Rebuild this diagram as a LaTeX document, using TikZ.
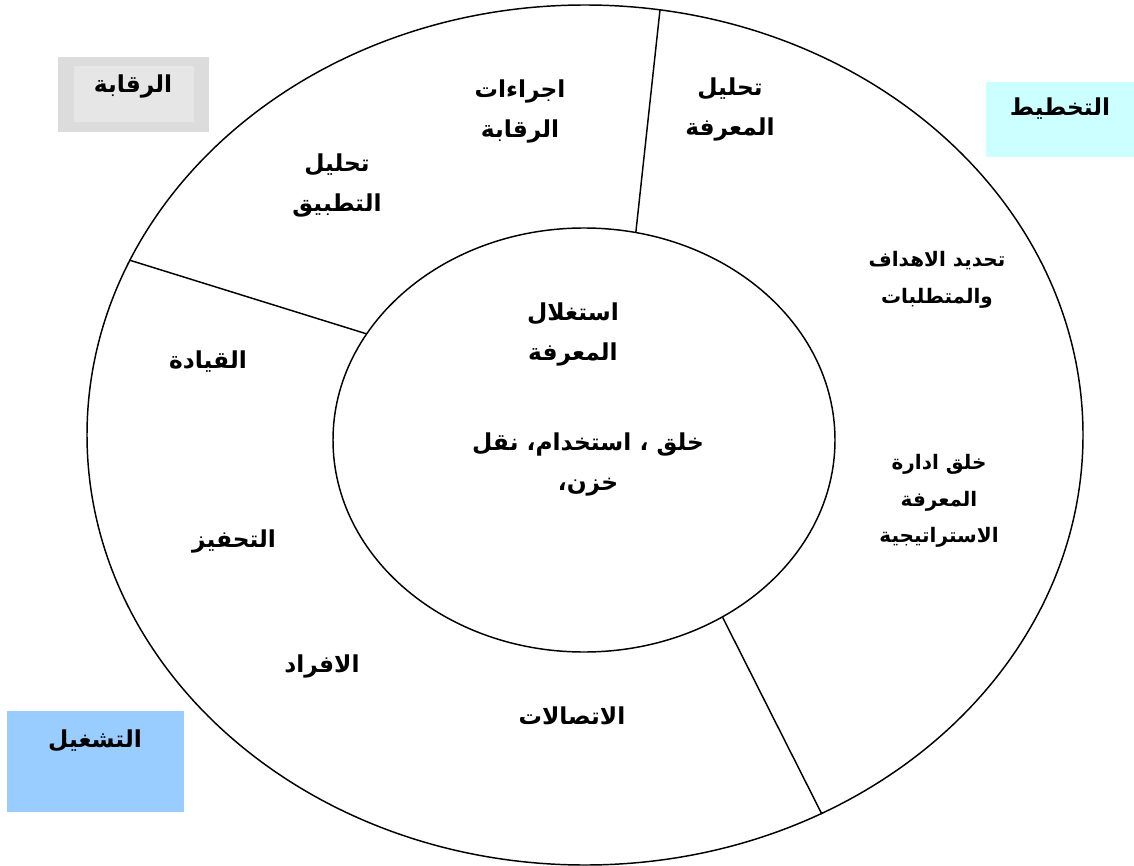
\documentclass[tikz,border=0pt]{standalone}
\usepackage{fontspec}
\newfontfamily\arabicfont[Script=Arabic]{DejaVu Sans}
\TeXXeTstate=1
\usetikzlibrary{shapes.geometric,positioning}
\definecolor{ctrlgray}{HTML}{DCDCDC}
\definecolor{ctrlgraylight}{HTML}{E6E6E6}
\definecolor{plancyan}{HTML}{CCFFFF}
\definecolor{opblue}{HTML}{99CCFF}
\newcommand{\artext}[1]{\beginR #1\endR}

\begin{document}
\begin{tikzpicture}[x=0.75pt, y=-0.75pt, line width=1.1pt]
\tikzstyle{ring}=[ellipse, draw=black, inner sep=0pt]
\tikzstyle{lbl}=[align=center, inner sep=0pt, font=\arabicfont\bfseries\fontsize{17.5}{30}\selectfont]
\tikzstyle{lblsmall}=[lbl, font=\arabicfont\bfseries\fontsize{15}{27.5}\selectfont]
\useasboundingbox (0,0) rectangle (1134,866);
% coloured boxes
\fill[ctrlgray] (58,57) rectangle (209,132);
\fill[ctrlgraylight] (74,66) rectangle (194,122);
\fill[plancyan] (986,82) rectangle (1134,157);
\fill[opblue] (7,711) rectangle (184,812);
\node[lbl] (control) at (133,86)  {\artext{الرقابة}};
\node[lbl] (plan)    at (1060,109) {\artext{التخطيط}};
\node[lbl] (oper)    at (95,741)  {\artext{التشغيل}};
% rings
\node[ring, minimum width=747pt, minimum height=645pt] (outer) at (585,435) {};
\node[ring, minimum width=376.5pt, minimum height=318pt] (inner) at (584,440) {};
\draw (inner.76)   -- (outer.80);
\draw (inner.154)  -- (outer.159);
\draw (inner.-52)  -- (outer.-58.7);
% outer ring texts
\node[lbl] (ctrlproc)  at (520,111) {\artext{اجراءات}\\\artext{الرقابة}};
\node[lbl] (knowanal)  at (730,109) {\artext{تحليل}\\\artext{المعرفة}};
\node[lbl] (appanal)   at (337,186) {\artext{تحليل}\\\artext{التطبيق}};
\node[lblsmall] (goals)    at (937,280) {\artext{تحديد الاهداف}\\\artext{والمتطلبات}};
\node[lblsmall] (strategy) at (939,501) {\artext{خلق ادارة}\\\artext{المعرفة}\\\artext{الاستراتيجية}};
\node[lbl] (lead)      at (208,362) {\artext{القيادة}};
\node[lbl] (motiv)     at (234,541) {\artext{التحفيز}};
\node[lbl] (people)    at (322,666) {\artext{الافراد}};
\node[lbl] (comm)      at (572,716) {\artext{الاتصالات}};
% inner circle texts
\node[lbl] (exploit)   at (573,334) {\artext{استغلال}\\\artext{المعرفة}};
\node[lbl] (cycle)     at (588,464) {\artext{خلق ، استخدام، نقل}\\\artext{خزن،}};
\end{tikzpicture}
\end{document}
